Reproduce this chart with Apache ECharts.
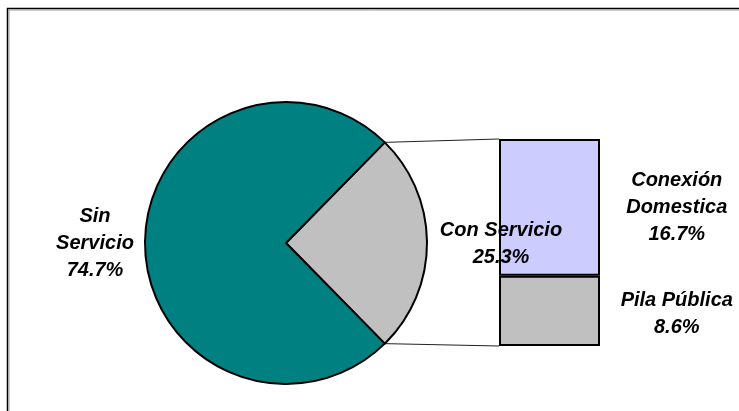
<!DOCTYPE html>
<html>
<head>
<meta charset="utf-8">
<script src="https://cdn.jsdelivr.net/npm/echarts@6/dist/echarts.min.js"></script>
<style>
  html, body { margin: 0; padding: 0; background: #fff; }
  #chart { width: 739px; height: 411px; }
</style>
</head>
<body>
<div id="chart"></div>
<script>
// Service coverage: pie split, with the "Con Servicio" share broken down in a stacked column
const pieNames = ['Con Servicio', 'Sin Servicio'];
const pieValues = [25.3, 74.7];
const pieColors = ['#C0C0C0', '#008080'];

const barNames = ['Pila Pública', 'Conexión Domestica'];   // bottom to top
const barValues = [8.6, 16.7];
const barColors = ['#C0C0C0', '#CCCCFF'];

// Layout
const CX = 286, CY = 243, R = 141;
const BAR = { left: 499, top: 139, width: 101, height: 207 };

const chart = echarts.init(document.getElementById('chart'), null, { renderer: 'canvas' });

const font = {
  fontFamily: 'Liberation Sans, Arial, sans-serif',
  fontWeight: 'bold',
  fontStyle: 'italic',
  fontSize: 20,
  lineHeight: 27,
  color: '#000'
};

const pieTotal = pieValues.reduce((a, b) => a + b, 0);
const halfAngle = pieValues[0] / pieTotal * 180;   // degrees either side of 3 o'clock
const barTotal = barValues.reduce((a, b) => a + b, 0);

// label anchors, distance beyond the pie edge on each side
const labelAnchor = [
  { x: CX + R + 74, y: CY + 1 },
  { x: CX - R - 50, y: CY }
];

chart.setOption({
  animation: false,
  backgroundColor: '#fff',
  grid: { left: BAR.left, top: BAR.top, width: BAR.width, height: BAR.height },
  xAxis: { type: 'category', data: ['Con Servicio'], show: false },
  yAxis: { type: 'value', min: 0, max: barTotal, show: false },
  series: [
    {
      type: 'pie',
      z: 5,
      center: [CX, CY],
      radius: R,
      startAngle: halfAngle,
      clockwise: true,
      silent: true,
      itemStyle: { borderColor: '#000', borderWidth: 2 },
      label: Object.assign({
        show: true,
        position: 'outside',
        formatter: p => p.name.replace(' ', p.dataIndex === 1 ? '\n' : ' ') + '\n' + p.value.toFixed(1) + '%'
      }, font),
      labelLine: { show: false },
      labelLayout: p => ({
        x: labelAnchor[p.dataIndex].x,
        y: labelAnchor[p.dataIndex].y,
        align: 'center',
        verticalAlign: 'middle'
      }),
      data: pieNames.map((n, i) => ({ name: n, value: pieValues[i], itemStyle: { color: pieColors[i] } }))
    }
  ].concat(barNames.map((n, i) => ({
    type: 'bar',
    name: n,
    stack: 'svc',
    barWidth: '100%',
    silent: true,
    z: 2,
    itemStyle: { color: barColors[i], borderColor: '#000', borderWidth: 2 },
    label: Object.assign({
      show: true,
      position: ['176%', i === 0 ? '55%' : '50%'],
      align: 'center',
      verticalAlign: 'middle',
      formatter: p => (p.seriesName === 'Conexión Domestica' ? 'Conexión\nDomestica' : p.seriesName) + '\n' + p.value.toFixed(1) + '%'
    }, font),
    data: [barValues[i]]
  })))
});

// Connector lines from the ends of the "Con Servicio" slice to the column corners,
// plus the outer frame
function drawExtras() {
  const a = halfAngle * Math.PI / 180;
  const topPt = [CX + R * Math.cos(a), CY - R * Math.sin(a)];
  const botPt = [CX + R * Math.cos(a), CY + R * Math.sin(a)];
  const colTop = chart.convertToPixel({ gridIndex: 0 }, ['Con Servicio', barTotal]);
  const colBot = chart.convertToPixel({ gridIndex: 0 }, ['Con Servicio', 0]);
  const colLeft = BAR.left;
  chart.setOption({
    graphic: [
      { type: 'line', silent: true, z: 1, shape: { x1: topPt[0], y1: topPt[1], x2: colLeft, y2: colTop[1] },
        style: { stroke: '#222', lineWidth: 1 } },
      { type: 'line', silent: true, z: 1, shape: { x1: botPt[0], y1: botPt[1], x2: colLeft, y2: colBot[1] },
        style: { stroke: '#222', lineWidth: 1 } },
      { type: 'rect', silent: true, z: 0, shape: { x: 7.5, y: 8.5, width: 760, height: 420 },
        style: { fill: null, stroke: '#000', lineWidth: 1.5 } },
      { type: 'rect', silent: true, z: 0, shape: { x: 9, y: 10, width: 760, height: 420 },
        style: { fill: null, stroke: '#9a9a9a', lineWidth: 1 } }
    ]
  });
}
drawExtras();
</script>
</body>
</html>
